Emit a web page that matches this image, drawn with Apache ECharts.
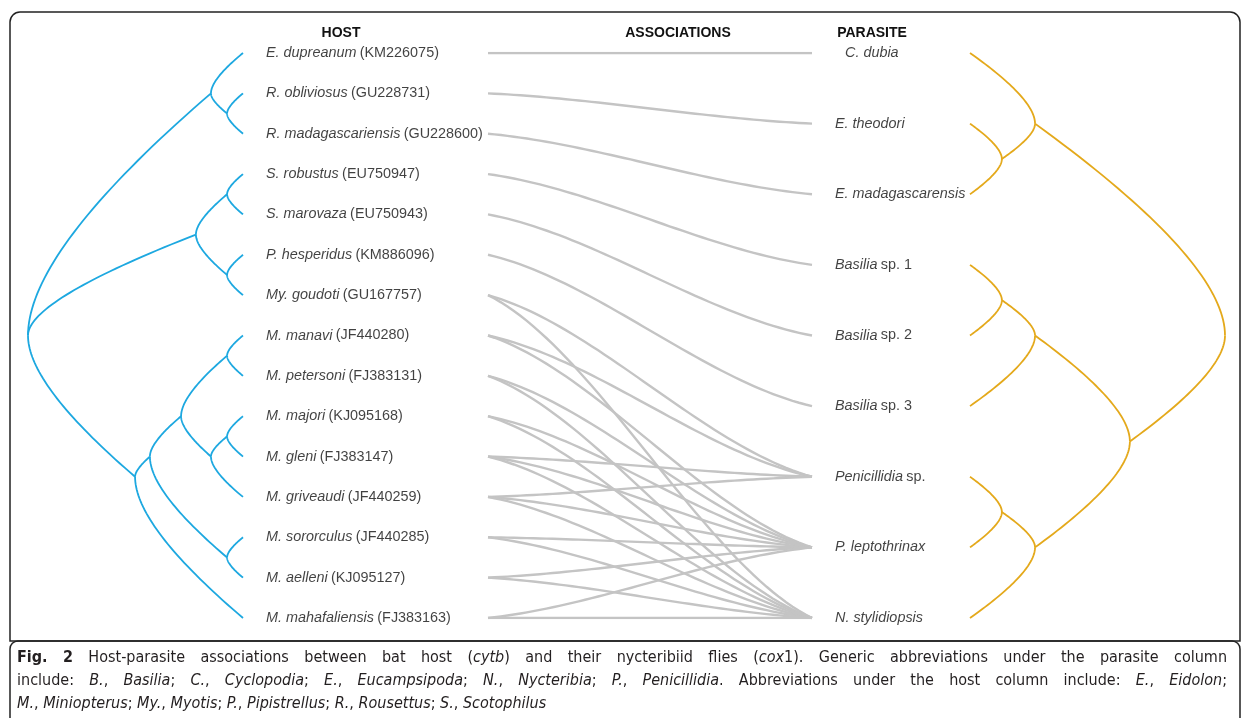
<!DOCTYPE html>
<html>
<head>
<meta charset="utf-8">
<script src="https://cdn.jsdelivr.net/npm/echarts@6/dist/echarts.min.js"></script>
<style>html,body{margin:0;padding:0;background:#fff;}#chart{width:1243px;height:718px;}</style>
</head>
<body>
<div id="chart"></div>
<script>
// ---------------- DATA ----------------
const hostTaxa = ['E. dupreanum','R. obliviosus','R. madagascariensis','S. robustus','S. marovaza','P. hesperidus','My. goudoti','M. manavi','M. petersoni','M. majori','M. gleni','M. griveaudi','M. sororculus','M. aelleni','M. mahafaliensis'];
const hostAccessions = ['KM226075','GU228731','GU228600','EU750947','EU750943','KM886096','GU167757','JF440280','FJ383131','KJ095168','FJ383147','JF440259','JF440285','KJ095127','FJ383163'];
const parasiteTaxa = ['C. dubia','E. theodori','E. madagascarensis','Basilia sp. 1','Basilia sp. 2','Basilia sp. 3','Penicillidia sp.','P. leptothrinax','N. stylidiopsis'];
// clades: [id, relative node height (leaves = 0, root = 1), children...]
const hostClades = [
  ['Rou', 0.074, 'R. obliviosus', 'R. madagascariensis'],
  ['Pte', 0.149, 'E. dupreanum', 'Rou'],
  ['Sco', 0.074, 'S. robustus', 'S. marovaza'],
  ['PM', 0.074, 'P. hesperidus', 'My. goudoti'],
  ['Ves', 0.219, 'Sco', 'PM'],
  ['MP', 0.074, 'M. manavi', 'M. petersoni'],
  ['MG', 0.074, 'M. majori', 'M. gleni'],
  ['MGG', 0.149, 'MG', 'M. griveaudi'],
  ['MC', 0.288, 'MP', 'MGG'],
  ['SA', 0.074, 'M. sororculus', 'M. aelleni'],
  ['MB', 0.433, 'MC', 'SA'],
  ['Min', 0.502, 'MB', 'M. mahafaliensis'],
  ['root', 1.0, 'Pte', 'Ves', 'Min']
];
const parasiteClades = [
  ['Euc', 0.125, 'E. theodori', 'E. madagascarensis'],
  ['Cyc', 0.255, 'C. dubia', 'Euc'],
  ['B12', 0.125, 'Basilia sp. 1', 'Basilia sp. 2'],
  ['Bas', 0.255, 'B12', 'Basilia sp. 3'],
  ['PP', 0.125, 'Penicillidia sp.', 'P. leptothrinax'],
  ['PN', 0.255, 'PP', 'N. stylidiopsis'],
  ['BP', 0.627, 'Bas', 'PN'],
  ['root', 1.0, 'Cyc', 'BP']
];
const associations = [
  ['E. dupreanum','C. dubia'],
  ['R. obliviosus','E. theodori'],
  ['R. madagascariensis','E. madagascarensis'],
  ['S. robustus','Basilia sp. 1'],
  ['S. marovaza','Basilia sp. 2'],
  ['P. hesperidus','Basilia sp. 3'],
  ['My. goudoti','Penicillidia sp.'],
  ['My. goudoti','N. stylidiopsis'],
  ['M. manavi','Penicillidia sp.'],
  ['M. manavi','P. leptothrinax'],
  ['M. petersoni','P. leptothrinax'],
  ['M. petersoni','N. stylidiopsis'],
  ['M. majori','P. leptothrinax'],
  ['M. majori','N. stylidiopsis'],
  ['M. gleni','Penicillidia sp.'],
  ['M. gleni','P. leptothrinax'],
  ['M. gleni','N. stylidiopsis'],
  ['M. griveaudi','Penicillidia sp.'],
  ['M. griveaudi','P. leptothrinax'],
  ['M. griveaudi','N. stylidiopsis'],
  ['M. sororculus','P. leptothrinax'],
  ['M. sororculus','N. stylidiopsis'],
  ['M. aelleni','P. leptothrinax'],
  ['M. aelleni','N. stylidiopsis'],
  ['M. mahafaliensis','P. leptothrinax'],
  ['M. mahafaliensis','N. stylidiopsis']
];
const headers = ['HOST', 'ASSOCIATIONS', 'PARASITE'];
const captionLines = [
  [['b','Fig. 2'],['n',' Host-parasite associations between bat host ('],['i','cytb'],['n',') and their nycteribiid flies ('],['i','cox'],['n','1). Generic abbreviations under the parasite column']],
  [['n','include: '],['i','B.'],['n',', '],['i','Basilia'],['n','; '],['i','C.'],['n',', '],['i','Cyclopodia'],['n','; '],['i','E.'],['n',', '],['i','Eucampsipoda'],['n','; '],['i','N.'],['n',', '],['i','Nycteribia'],['n','; '],['i','P.'],['n',', '],['i','Penicillidia'],['n','. Abbreviations under the host column include: '],['i','E.'],['n',', '],['i','Eidolon'],['n',';']],
  [['i','M.'],['n',', '],['i','Miniopterus'],['n','; '],['i','My.'],['n',', '],['i','Myotis'],['n','; '],['i','P.'],['n',', '],['i','Pipistrellus'],['n','; '],['i','R.'],['n',', '],['i','Rousettus'],['n','; '],['i','S.'],['n',', '],['i','Scotophilus']]
];

// ---------------- HELPERS ----------------
const HOST_COLOR = '#1DA8E0', PARA_COLOR = '#E4A91B', LINK_COLOR = '#C4C4C4';
const LABEL_FONT = '"Liberation Sans", Arial, sans-serif';
const CAP_FONT = '"Liberation Sans Narrow", "DejaVu Sans Condensed", "Liberation Sans", sans-serif';
const BEND = 0.35;

function treeGeometry(leaves, clades) {
  const map = {};
  leaves.forEach((n, i) => { map[n] = { h: 0, y: i, leaves: [i] }; });
  clades.forEach(c => {
    const kids = c.slice(2);
    const lv = [].concat(...kids.map(k => map[k].leaves));
    map[c[0]] = { h: c[1], y: lv.reduce((a, b) => a + b, 0) / lv.length, leaves: lv, kids };
  });
  const branches = [];
  clades.forEach(c => {
    const p = map[c[0]];
    p.kids.forEach(k => {
      const ch = map[k];
      const cx = p.h, cy = p.y + BEND * (ch.y - p.y);
      const pts = [];
      for (let s = 0; s <= 40; s++) {
        const t = s / 40, u = 1 - t;
        pts.push([u * u * p.h + 2 * u * t * cx + t * t * ch.h, u * u * p.y + 2 * u * t * cy + t * t * ch.y]);
      }
      branches.push({ coords: pts });
    });
  });
  return branches;
}
function linkCurves() {
  const nh = hostTaxa.length - 1, np = parasiteTaxa.length - 1, a = 0.5;
  return associations.map(([h, p]) => {
    const y0 = hostTaxa.indexOf(h) / nh, y1 = parasiteTaxa.indexOf(p) / np;
    const dy = y1 - y0, c1 = y0 + a * dy / 3, c2 = y1 - a * dy / 3;
    const pts = [];
    for (let s = 0; s <= 50; s++) {
      const t = s / 50, u = 1 - t;
      pts.push([t, u*u*u*y0 + 3*u*u*t*c1 + 3*u*t*t*c2 + t*t*t*y1]);
    }
    return { coords: pts };
  });
}

// caption justification
const ctx = document.createElement('canvas').getContext('2d');
const CAP_SIZE = 16;
function capFont(st) {
  return (st === 'i' ? 'italic ' : 'normal ') + (st === 'b' ? 'bold ' : 'normal ') + CAP_SIZE + 'px ' + CAP_FONT;
}
function buildCaption(segs, target) {
  let words = 0, spaces = 0, str = '';
  segs.forEach(([st, txt]) => {
    ctx.font = capFont(st);
    txt.split(' ').forEach((w, k) => {
      if (k > 0) { spaces++; str += '{sp| }'; }
      if (w) { words += ctx.measureText(w).width; str += '{' + st + '|' + w + '}'; }
    });
  });
  ctx.font = capFont('n');
  const natural = ctx.measureText(' ').width;
  const spW = target ? (target - words) / spaces : natural;
  const base = { fontSize: CAP_SIZE, fontFamily: CAP_FONT, fill: '#231f20', color: '#231f20' };
  return {
    text: str,
    rich: {
      b: Object.assign({ fontWeight: 'bold' }, base),
      i: Object.assign({ fontStyle: 'italic' }, base),
      n: Object.assign({}, base),
      sp: Object.assign({ width: spW }, base)
    }
  };
}

// ---------------- CHART ----------------
const chart = echarts.init(document.getElementById('chart'), null, { renderer: 'canvas' });
const gridTop = 53, gridH = 565;
const capY = [658, 681, 704];
const capTargets = [1210, 1210, 0];

const graphics = [
  { type: 'rect', shape: { x: 10, y: 12, width: 1230, height: 629, r: [10, 10, 0, 0] }, style: { fill: 'none', stroke: '#222', lineWidth: 1.5 }, silent: true },
  { type: 'rect', shape: { x: 10, y: 641, width: 1230, height: 120, r: [8, 8, 0, 0] }, style: { fill: 'none', stroke: '#222', lineWidth: 1.5 }, silent: true }
];
[341, 678, 872].forEach((x, k) => graphics.push({
  type: 'text', x: x, y: 33,
  style: { text: headers[k], font: 'bold 14px ' + LABEL_FONT, fill: '#111', align: 'center', verticalAlign: 'middle' }
}));
captionLines.forEach((segs, k) => {
  const c = buildCaption(segs, capTargets[k]);
  graphics.push({ type: 'text', x: 17, y: capY[k], style: { text: c.text, rich: c.rich, verticalAlign: 'middle', fill: '#231f20' } });
});

const labelRich = {
  i: { fontStyle: 'italic', fontSize: 14.4, fontFamily: LABEL_FONT, color: '#111' },
  n: { fontSize: 14.4, fontFamily: LABEL_FONT, color: '#111' }
};

chart.setOption({
  animation: false,
  backgroundColor: '#fff',
  grid: [
    { left: 28, top: gridTop, width: 215, height: gridH },
    { left: 488, top: gridTop, width: 324, height: gridH },
    { left: 970, top: gridTop, width: 255, height: gridH }
  ],
  xAxis: [
    { gridIndex: 0, type: 'value', min: 0, max: 1, inverse: true, show: false },
    { gridIndex: 1, type: 'value', min: 0, max: 1, show: false },
    { gridIndex: 2, type: 'value', min: 0, max: 1, show: false }
  ],
  yAxis: [
    { gridIndex: 0, type: 'value', min: 0, max: hostTaxa.length - 1, inverse: true, show: false },
    { gridIndex: 1, type: 'value', min: 0, max: 1, inverse: true, show: false },
    { gridIndex: 2, type: 'value', min: 0, max: parasiteTaxa.length - 1, inverse: true, show: false }
  ],
  graphic: graphics,
  series: [
    {
      type: 'lines', coordinateSystem: 'cartesian2d', xAxisIndex: 1, yAxisIndex: 1, polyline: true, silent: true,
      lineStyle: { color: LINK_COLOR, width: 2.4, opacity: 1 }, data: linkCurves()
    },
    {
      type: 'lines', coordinateSystem: 'cartesian2d', xAxisIndex: 0, yAxisIndex: 0, polyline: true, silent: true,
      lineStyle: { color: HOST_COLOR, width: 1.8, opacity: 1 }, data: treeGeometry(hostTaxa, hostClades)
    },
    {
      type: 'lines', coordinateSystem: 'cartesian2d', xAxisIndex: 2, yAxisIndex: 2, polyline: true, silent: true,
      lineStyle: { color: PARA_COLOR, width: 1.8, opacity: 1 }, data: treeGeometry(parasiteTaxa, parasiteClades)
    },
    {
      type: 'scatter', xAxisIndex: 0, yAxisIndex: 0, symbolSize: 0, silent: true,
      data: hostTaxa.map((n, i) => [0, i]),
      label: {
        show: true, position: 'right', distance: 23,
        formatter: p => '{i|' + hostTaxa[p.dataIndex] + '} {n|(' + hostAccessions[p.dataIndex] + ')}',
        rich: labelRich
      }
    },
    {
      type: 'scatter', xAxisIndex: 1, yAxisIndex: 1, symbolSize: 0, silent: true,
      data: parasiteTaxa.map((n, j) => ({
        value: [1, j / (parasiteTaxa.length - 1)],
        label: { distance: j === 0 ? 33 : 23 }
      })),
      label: {
        show: true, position: 'right', distance: 23,
        formatter: p => {
          const n = parasiteTaxa[p.dataIndex];
          const m = n.match(/^(\S+) (sp\..*)$/);
          return m ? '{i|' + m[1] + '} {n|' + m[2] + '}' : '{i|' + n + '}';
        },
        rich: labelRich
      }
    }
  ]
});
</script>
</body>
</html>
